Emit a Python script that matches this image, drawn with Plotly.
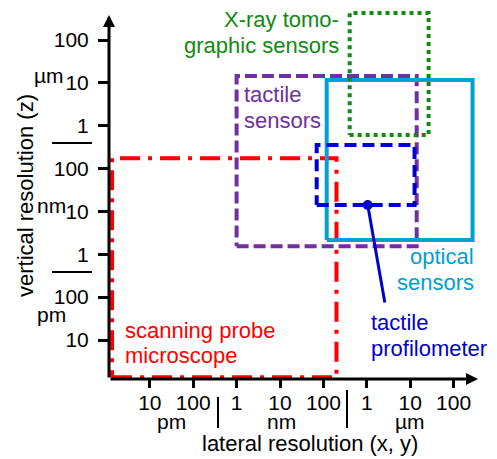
import plotly.graph_objects as go

# ---------------- data (resolution ranges, in picometres) ----------------
sensor_names = ["scanning probe microscope", "tactile sensors", "optical sensors",
                "X-ray tomographic sensors", "tactile profilometer"]
x_min_pm = [1.35, 1.0e3, 1.19e5, 4.03e5, 7.0e4]
x_max_pm = [2.0e5, 1.41e7, 2.73e8, 2.65e7, 1.26e7]
y_min_pm = [1.35, 1.55e3, 2.15e3, 6.07e5, 1.41e4]
y_max_pm = [1.75e5, 1.45e7, 1.16e7, 4.27e8, 3.55e5]

pointer_x_pm = [1.05e6, 2.6e6]
pointer_y_pm = [1.41e4, 75]

tick_vals = [1e1, 1e2, 1e3, 1e4, 1e5, 1e6, 1e7, 1e8]
tick_text = ["10", "100", "1", "10", "100", "1", "10", "100"]
unit_labels = ["pm", "nm", "µm"]

# ---------------- styling ----------------
colors = ["#FF0000", "#7030A0", "#00A0D2", "#118A11", "#0000CC"]
dashes = ["20px,8px,4px,8px", "12px,5px", "solid", "4px,4px", "12px,6px"]
widths = [4, 4, 4, 4, 4]
FONT = "Liberation Sans, Arial, sans-serif"

W, H = 497, 459
L, R, T, B = 109, 13, 10, 80
PW, PH = W - L - R, H - T - B


def px(x, y):
    return (x - L) / PW, (H - B - y) / PH


fig = go.Figure()
order = [0, 1, 2, 3, 4]
for i in order:
    x0, x1, y0, y1 = x_min_pm[i], x_max_pm[i], y_min_pm[i], y_max_pm[i]
    fig.add_trace(go.Scatter(
        x=[x0, x1, x1, x0, x0], y=[y0, y0, y1, y1, y0], mode="lines",
        line=dict(color=colors[i], width=widths[i], dash=dashes[i]),
        name=sensor_names[i], hoverinfo="name"))

fig.add_trace(go.Scatter(x=pointer_x_pm, y=pointer_y_pm, mode="lines",
                         line=dict(color=colors[4], width=3), hoverinfo="skip"))
fig.add_trace(go.Scatter(x=pointer_x_pm[:1], y=pointer_y_pm[:1], mode="markers",
                         marker=dict(color=colors[4], size=10), hoverinfo="skip"))

axis_common = dict(type="log", showgrid=False, zeroline=False, showline=False,
                   tickvals=tick_vals, ticktext=tick_text, ticks="outside",
                   tickwidth=3, tickcolor="black", automargin=False,
                   tickfont=dict(family=FONT, size=21, color="black"))
fig.update_xaxes(range=[0.06, 8.7], ticklen=8, ticklabelstandoff=-3, **axis_common)
fig.update_yaxes(range=[0.09, 8.7], ticklen=10, ticklabelstandoff=5, **axis_common)

ann = []
# axis arrows
hx, hy = px(109, 15)
ann.append(dict(xref="paper", yref="paper", x=hx, y=hy, ax=0, ay=364,
                axref="pixel", ayref="pixel", showarrow=True, arrowhead=2,
                arrowwidth=3, arrowsize=0.8, arrowcolor="black", text=""))
hx, hy = px(478, 379)
ann.append(dict(xref="paper", yref="paper", x=hx, y=hy, ax=-369, ay=0,
                axref="pixel", ayref="pixel", showarrow=True, arrowhead=2,
                arrowwidth=3, arrowsize=0.8, arrowcolor="black", text=""))


def label(text, x, base, anchor, color, size=22):
    xx, yy = px(x, base - 0.345 * size)
    ann.append(dict(xref="paper", yref="paper", x=xx, y=yy, text=text,
                    showarrow=False, xanchor=anchor, yanchor="middle",
                    font=dict(family=FONT, size=size, color=color)))


label("X-ray tomo-", 341, 27, "right", colors[3])
label("graphic sensors", 341, 53, "right", colors[3])
label("tactile", 242, 102, "left", colors[1])
label("sensors", 242, 128, "left", colors[1])
label("optical", 476, 264, "right", colors[2])
label("sensors", 476, 290, "right", colors[2])
label("tactile", 369, 330, "left", colors[4])
label("profilometer", 369, 356, "left", colors[4])
label("scanning probe", 123, 338, "left", colors[0])
label("microscope", 123, 363, "left", colors[0])

# unit labels
label(unit_labels[0], 171, 429, "center", "black", 21)
label(unit_labels[1], 281, 429, "center", "black", 21)
label(unit_labels[2], 410, 429, "center", "black", 21)
label(unit_labels[2], 66, 83, "right", "black", 21)
label(unit_labels[1], 68, 213, "right", "black", 21)
label(unit_labels[0], 68, 322, "right", "black", 21)

# axis titles
label("lateral resolution (x, y)", 310, 451, "center", "black", 22)
tx, ty = px(25, 196)
ann.append(dict(xref="paper", yref="paper", x=tx, y=ty, text="vertical resolution (z)",
                showarrow=False, textangle=-90, xanchor="center", yanchor="middle",
                font=dict(family=FONT, size=22, color="black")))

shapes = []
for yy in (143, 272):
    x0, y0 = px(52, yy)
    x1, _ = px(92, yy)
    shapes.append(dict(type="line", xref="paper", yref="paper", x0=x0, x1=x1,
                       y0=y0, y1=y0, line=dict(color="black", width=2)))
for xx, ya in ((218, 397), (347, 390)):
    x0, y0 = px(xx, ya)
    _, y1 = px(xx, 428)
    shapes.append(dict(type="line", xref="paper", yref="paper", x0=x0, x1=x0,
                       y0=y0, y1=y1, line=dict(color="black", width=2)))

fig.update_layout(width=W, height=H,
                  margin=dict(l=L, r=R, t=T, b=B, autoexpand=False),
                  paper_bgcolor="white", plot_bgcolor="white", showlegend=False,
                  annotations=ann, shapes=shapes)

fig.write_html("out.html", config={"displayModeBar": False},
               post_script="document.body.style.margin='0';"
                           "document.body.style.overflow='hidden';")
